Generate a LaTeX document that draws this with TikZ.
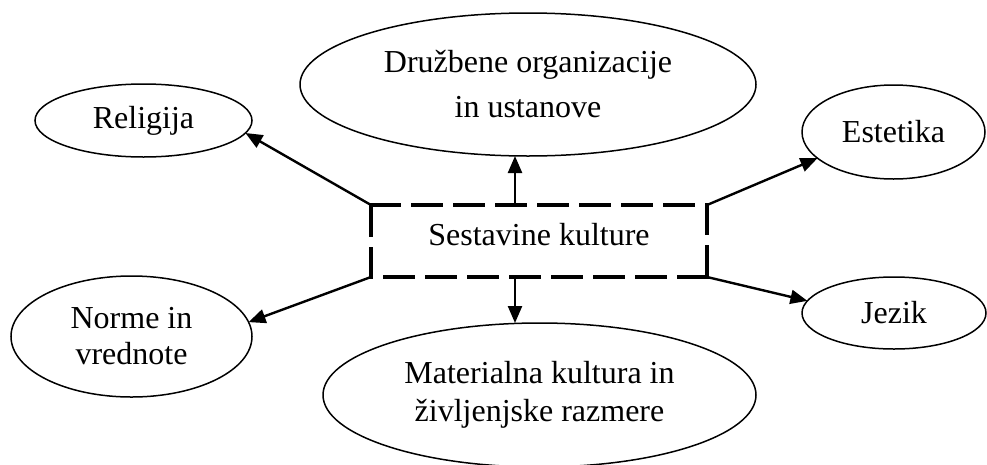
\documentclass[tikz,border=0pt]{standalone}
\usepackage{fontspec}
\setmainfont{Liberation Serif}
\usetikzlibrary{shapes.geometric,arrows.meta}
\begin{document}
\begin{tikzpicture}[x=1pt,y=-1pt,
  oval/.style={draw,ellipse,line width=1.5pt,inner sep=0pt,outer sep=0pt,align=center,
    font=\fontsize{32}{36}\selectfont},
  centerbox/.style={inner sep=0pt,outer sep=0pt,minimum width=336pt,minimum height=72pt,
    font=\fontsize{32}{36}\selectfont,text depth=14pt},
  dashbox/.style={line width=3.6pt,dash pattern=on 28pt off 14pt,line cap=rect},
  arr/.style={line width=2.4pt,-{Triangle[length=17pt,width=14pt]}}]
\useasboundingbox (0,0) rectangle (987,464);
\node[oval,minimum width=217pt,minimum height=73pt] (rel) at (143.5,120.5) {Religija};
\node[oval,minimum width=456pt,minimum height=143pt,font=\fontsize{32}{45}\selectfont] (dru) at (528,84.5) {Družbene organizacije\\in ustanove};
\node[oval,minimum width=183pt,minimum height=94pt] (est) at (893.5,132) {Estetika};
\node[oval,minimum width=241pt,minimum height=121pt] (nor) at (131.5,336.5) {Norme in\\vrednote};
\node[oval,minimum width=433pt,minimum height=144pt,font=\fontsize{32}{38}\selectfont] (mat) at (539.5,395) {Materialna kultura in\\življenjske razmere};
\node[oval,minimum width=184pt,minimum height=72pt] (jez) at (894,313) {Jezik};
\node[centerbox] (c) at (539,241) {Sestavine kulture};
\draw[dashbox] (c.north west) -- (c.north east)
               (c.north east) -- (c.south east)
               (c.south east) -- (c.south west)
               (c.south west) -- (c.north west);
\draw[arr] (c.north west) -- (rel.-7);
\draw[arr] (c.south west) -- (nor.7);
\draw[arr] (c.north east) -- (est.199);
\draw[arr] (c.south east) -- (jez.172);
\draw[arr] ([xshift=-24pt]c.north) -- ([xshift=-24pt]c.north |- dru.south);
\draw[arr] ([xshift=-24pt]c.south) -- ([xshift=-24pt]c.south |- mat.north);
\end{tikzpicture}
\end{document}
